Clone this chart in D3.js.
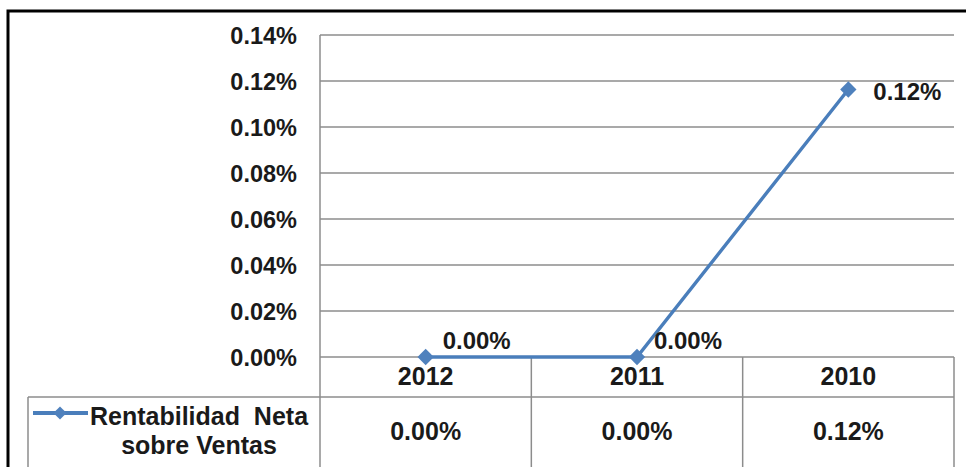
<!DOCTYPE html>
<html>
<head>
<meta charset="utf-8">
<script src="https://cdn.jsdelivr.net/npm/d3@7"></script>
<style>
  html, body { margin: 0; padding: 0; background: #fff; }
  svg { display: block; }
  text { font-family: "Liberation Sans", Arial, sans-serif; font-weight: bold; fill: #1a1a1a; white-space: pre; }
</style>
</head>
<body>
<svg id="chart" width="966" height="467"></svg>
<script>
// Series data
const categories = ["2012", "2011", "2010"];
const values = [0.0, 0.0, 0.1163];           // percent
const seriesName = ["Rentabilidad  Neta", "sobre Ventas"];
const yTicks = [0, 0.02, 0.04, 0.06, 0.08, 0.10, 0.12, 0.14];

const W = 966, H = 467;
const svg = d3.select("#chart");

const plot = { left: 320, right: 954, top: 35, bottom: 357 };
const tableRow1 = 397;          // bottom of category row
const tableBottom = 480;        // runs past the frame
const legendLeft = 28;

const lineColor = "#4A7EBB";
const gridColor = "#8c8c8c";
const fsAxis = 23.5;
const fsTable = 25;
const fsLabel = 24;

const x = d3.scaleBand().domain(categories).range([plot.left, plot.right]);
const y = d3.scaleLinear().domain([0, 0.14]).range([plot.bottom, plot.top]);
const fmt = v => d3.format(".2f")(v) + "%";

// outer frame
svg.append("rect")
  .attr("x", 8).attr("y", 11)
  .attr("width", W + 20).attr("height", H + 20)
  .attr("fill", "none").attr("stroke", "#000").attr("stroke-width", 3);

// horizontal gridlines
svg.append("g")
  .selectAll("line").data(yTicks).join("line")
  .attr("x1", plot.left).attr("x2", plot.right)
  .attr("y1", d => y(d)).attr("y2", d => y(d))
  .attr("stroke", gridColor).attr("stroke-width", 1.5);

// y axis labels
const yAxis = svg.append("g")
  .attr("transform", `translate(${plot.left - 23},0)`)
  .call(d3.axisLeft(y).tickValues(yTicks).tickFormat(fmt).tickSize(0).tickPadding(0));
yAxis.select(".domain").remove();
yAxis.selectAll("text")
  .attr("font-size", fsAxis).attr("font-family", "Liberation Sans, Arial, sans-serif")
  .attr("font-weight", "bold").attr("fill", "#1a1a1a")
  .attr("x", 0).attr("dy", "0.35em").attr("text-anchor", "end");

// left border of plot area and data table
svg.append("line")
  .attr("x1", plot.left).attr("x2", plot.left)
  .attr("y1", plot.top).attr("y2", tableBottom)
  .attr("stroke", gridColor).attr("stroke-width", 1.5);

// data table grid
const tbl = svg.append("g").attr("stroke", gridColor).attr("stroke-width", 1.5);
tbl.selectAll("line.col").data(categories).join("line")
  .attr("x1", d => x(d) + x.bandwidth()).attr("x2", d => x(d) + x.bandwidth())
  .attr("y1", plot.bottom).attr("y2", tableBottom);
tbl.append("line")
  .attr("x1", legendLeft).attr("x2", plot.right)
  .attr("y1", tableRow1).attr("y2", tableRow1);
tbl.append("line")
  .attr("x1", legendLeft).attr("x2", legendLeft)
  .attr("y1", tableRow1).attr("y2", tableBottom);

// category labels
svg.append("g").selectAll("text").data(categories).join("text")
  .attr("x", d => x(d) + x.bandwidth() / 2).attr("y", 376)
  .attr("text-anchor", "middle").attr("dy", "0.35em")
  .attr("font-size", fsTable).text(d => d);

// value row
svg.append("g").selectAll("text").data(values).join("text")
  .attr("x", (d, i) => x(categories[i]) + x.bandwidth() / 2).attr("y", 431)
  .attr("text-anchor", "middle").attr("dy", "0.35em")
  .attr("font-size", fsTable).text(d => fmt(d));

// legend key inside the table
const keyY = 413;
svg.append("line")
  .attr("x1", 33).attr("x2", 88).attr("y1", keyY).attr("y2", keyY)
  .attr("stroke", lineColor).attr("stroke-width", 3.8);
svg.append("path")
  .attr("d", d3.symbol(d3.symbolDiamond2, 110)())
  .attr("transform", `translate(60,${keyY})`)
  .attr("fill", "#4F81BD");
svg.append("g").selectAll("text").data(seriesName).join("text")
  .attr("x", 199).attr("y", (d, i) => 416 + i * 29)
  .attr("text-anchor", "middle").attr("dy", "0.35em")
  .attr("font-size", fsTable).text(d => d);

// series line
const pts = categories.map((c, i) => [x(c) + x.bandwidth() / 2, y(values[i])]);
svg.append("path")
  .datum(pts)
  .attr("d", d3.line())
  .attr("fill", "none").attr("stroke", lineColor).attr("stroke-width", 3.4);

// markers
svg.append("g").selectAll("path").data(pts).join("path")
  .attr("d", d3.symbol(d3.symbolDiamond2, 170)())
  .attr("transform", d => `translate(${d[0]},${d[1]})`)
  .attr("fill", "#4F81BD");

// data labels: to the right of each point, lifted when sitting on the baseline
svg.append("g").selectAll("text").data(pts).join("text")
  .attr("x", (d, i) => d[0] + (values[i] === 0 ? 17 : 25))
  .attr("y", (d, i) => d[1] + (values[i] === 0 ? -16 : 2))
  .attr("text-anchor", "start").attr("dy", "0.35em")
  .attr("font-size", fsLabel).text((d, i) => fmt(values[i]));
</script>
</body>
</html>
